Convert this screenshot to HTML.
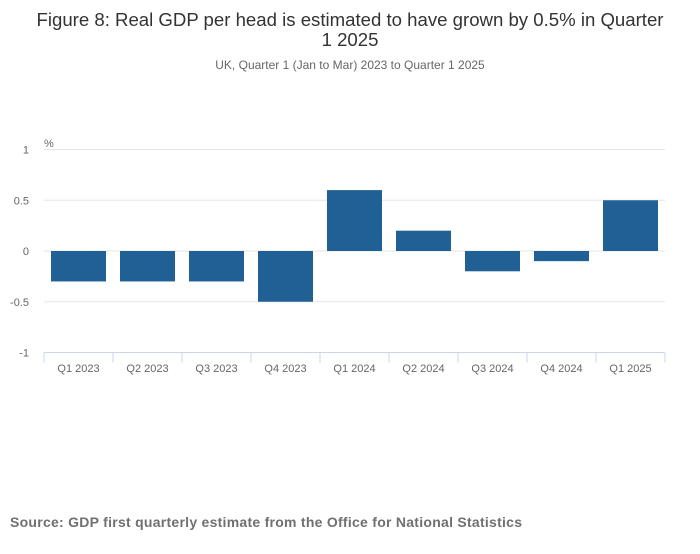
<!DOCTYPE html>
<html><head><meta charset="utf-8"><style>
body{margin:0;width:700px;height:549px;background:#fff;font-family:"Liberation Sans",sans-serif;overflow:hidden}
</style></head><body>
<svg width="700" height="549">
<text x="350" y="26" text-anchor="middle" font-size="18.6" fill="#333">Figure 8: Real GDP per head is estimated to have grown by 0.5% in Quarter</text>
<text x="350" y="46" text-anchor="middle" font-size="18.6" fill="#333">1 2025</text>
<text x="350" y="69" text-anchor="middle" font-size="12" fill="#666">UK, Quarter 1 (Jan to Mar) 2023 to Quarter 1 2025</text>
<text x="44" y="147" font-size="11" fill="#666">%</text>
<g id="grid"></g><g id="bars"></g><g id="xaxis"></g>
<text x="10" y="527" font-size="14" font-weight="bold" fill="#707070" textLength="512">Source: GDP first quarterly estimate from the Office for National Statistics</text>
</svg>
<script>
const categories=["Q1 2023","Q2 2023","Q3 2023","Q4 2023","Q1 2024","Q2 2024","Q3 2024","Q4 2024","Q1 2025"];
const values=[-0.3,-0.3,-0.3,-0.5,0.6,0.2,-0.2,-0.1,0.5];
const yTicks=[1,0.5,0,-0.5,-1];
const NS="http://www.w3.org/2000/svg";
const L=44,R=665,yTop=149.5,yBot=352.5,vmax=1,vmin=-1;
const y=v=>yTop+(vmax-v)/(vmax-vmin)*(yBot-yTop);
const bw=(R-L)/categories.length;
const x=i=>L+i*bw;
function mk(t,a,p){const e=document.createElementNS(NS,t);for(const k in a)e.setAttribute(k,a[k]);p.appendChild(e);return e;}
const g=document.getElementById('grid'),b=document.getElementById('bars'),xa=document.getElementById('xaxis');
yTicks.forEach(v=>{
 if(v!==-1){const l=mk('line',{x1:L,x2:R,y1:y(v),y2:y(v),stroke:'#e6e6e6','stroke-width':1},g);
 
 }
 const t=mk('text',{x:29,y:y(v)+4,'text-anchor':'end','font-size':11,fill:'#666'},g);t.textContent=v;
 
 
});
values.forEach((v,i)=>{
 const r=mk('rect',{x:x(i)+7,width:bw-14,y:Math.min(y(v),y(0)),height:Math.abs(y(v)-y(0)),fill:'#206095'},b);
 
 
 const t=mk('text',{x:x(i)+bw/2,y:372,'text-anchor':'middle','font-size':11,fill:'#666'},xa);t.textContent=categories[i];
 
 
});
const ax=mk('line',{x1:L,x2:R,y1:yBot,y2:yBot,stroke:'#ccd6eb'},xa);


for(let i=0;i<=categories.length;i++){const tk=mk('line',{x1:x(i),x2:x(i),y1:yBot,y2:yBot+10,stroke:'#ccd6eb'},xa);
 
 }
</script>
</body></html>
